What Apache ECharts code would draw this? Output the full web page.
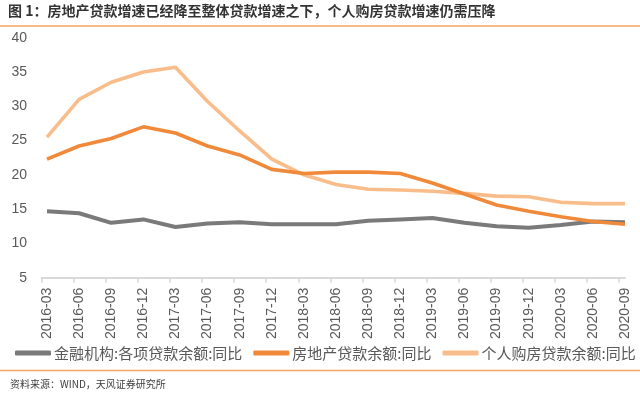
<!DOCTYPE html>
<html>
<head>
<meta charset="utf-8">
<script src="https://cdn.jsdelivr.net/npm/echarts@6/dist/echarts.min.js"></script>
<style>html,body{margin:0;padding:0;background:#fff;}#c{width:640px;height:394px;}</style>
</head>
<body>
<div id="c"></div>
<script>
var categories = ['2016-03','2016-06','2016-09','2016-12','2017-03','2017-06','2017-09','2017-12','2018-03','2018-06','2018-09','2018-12','2019-03','2019-06','2019-09','2019-12','2020-03','2020-06','2020-09'];
var totalLoans = [14.7,14.4,13.0,13.5,12.4,12.9,13.1,12.8,12.8,12.8,13.3,13.5,13.7,13.0,12.5,12.3,12.7,13.2,13.1];
var realEstateLoans = [22.3,24.2,25.3,27.0,26.1,24.2,22.9,20.8,20.2,20.4,20.4,20.2,18.8,17.2,15.6,14.7,13.9,13.2,12.8];
var mortgageLoans = [25.5,31.0,33.5,35.0,35.7,30.7,26.4,22.3,20.0,18.6,17.9,17.8,17.6,17.3,16.9,16.8,16.0,15.8,15.8];
var seriesNames = ['金融机构:各项贷款余额:同比','房地产贷款余额:同比','个人购房贷款余额:同比'];
var yTicks = {min: 5, max: 40, interval: 5};
var titleText = '图 1：房地产贷款增速已经降至整体贷款增速之下，个人购房贷款增速仍需压降';
var sourceText = '资料来源：WIND，天风证券研究所';

var chart = echarts.init(document.getElementById('c'), null, {renderer: 'canvas'});
var labelColor = '#595959';
var font = '"Noto Sans CJK SC", "Liberation Sans", sans-serif';
chart.setOption({
  animation: false,
  backgroundColor: '#ffffff',
  color: ['#7a7a7a', '#f08a3a', '#f8bd8a'],
  title: {
    text: titleText, left: 8, top: 4, padding: 0,
    textStyle: {fontSize: 14, fontWeight: 'bold', color: '#333333', fontFamily: font}
  },
  legend: {
    left: 15, top: 344, width: 625, padding: 0, itemGap: 11, itemWidth: 36, itemHeight: 5, icon: 'roundRect',
    textStyle: {fontSize: 15, color: labelColor, fontFamily: font, lineHeight: 18, padding: [0, 0, 0, -2]},
    data: seriesNames
  },
  grid: [
    {left: 47, right: 15, top: 37.7, bottom: 116.3, containLabel: false},
    {left: 41.7, right: 21, top: 37.7, bottom: 116.3, containLabel: false}
  ],
  xAxis: [
    {
      type: 'category', gridIndex: 0, data: categories, boundaryGap: false,
      axisLine: {show: true, lineStyle: {color: '#d9d9d9', width: 2}},
      axisTick: {show: false},
      axisLabel: {rotate: 90, fontSize: 14, color: labelColor, margin: 10, fontFamily: '"Liberation Sans", sans-serif', interval: 0},
      splitLine: {show: false}
    },
    {
      type: 'category', gridIndex: 1, data: categories, boundaryGap: false,
      axisLine: {show: true, lineStyle: {color: '#d9d9d9', width: 2}},
      axisTick: {show: true, length: 5, interval: 0, lineStyle: {color: '#d9d9d9', width: 1.5}},
      axisLabel: {show: false},
      splitLine: {show: false}
    }
  ],
  yAxis: [
    {
      type: 'value', gridIndex: 0, min: yTicks.min, max: yTicks.max, interval: yTicks.interval,
      axisLine: {show: false}, axisTick: {show: false},
      axisLabel: {fontSize: 14, color: labelColor, margin: 20, fontFamily: '"Liberation Sans", sans-serif'},
      splitLine: {show: false}
    },
    {
      type: 'value', gridIndex: 1, min: yTicks.min, max: yTicks.max, interval: yTicks.interval,
      show: false
    }
  ],
  series: [
    {name: seriesNames[0], type: 'line', data: totalLoans, showSymbol: false, symbol: 'none', lineStyle: {width: 4, color: '#7a7a7a'}, z: 3},
    {name: seriesNames[1], type: 'line', data: realEstateLoans, showSymbol: false, symbol: 'none', lineStyle: {width: 3.6, color: '#f08a3a'}, z: 4},
    {name: seriesNames[2], type: 'line', data: mortgageLoans, showSymbol: false, symbol: 'none', lineStyle: {width: 3.6, color: '#f8bd8a'}, z: 2}
  ],
  graphic: [
    {type: 'line', shape: {x1: 0, y1: 26, x2: 640, y2: 26}, style: {stroke: '#f3a562', lineWidth: 1.5}},
    {type: 'line', shape: {x1: 0, y1: 370.5, x2: 640, y2: 370.5}, style: {stroke: '#f3a562', lineWidth: 1.5}},
    {type: 'text', left: 10, top: 379, style: {text: sourceText, fontSize: 10, fill: '#404040', fontFamily: font}}
  ]
});
</script>
</body>
</html>
